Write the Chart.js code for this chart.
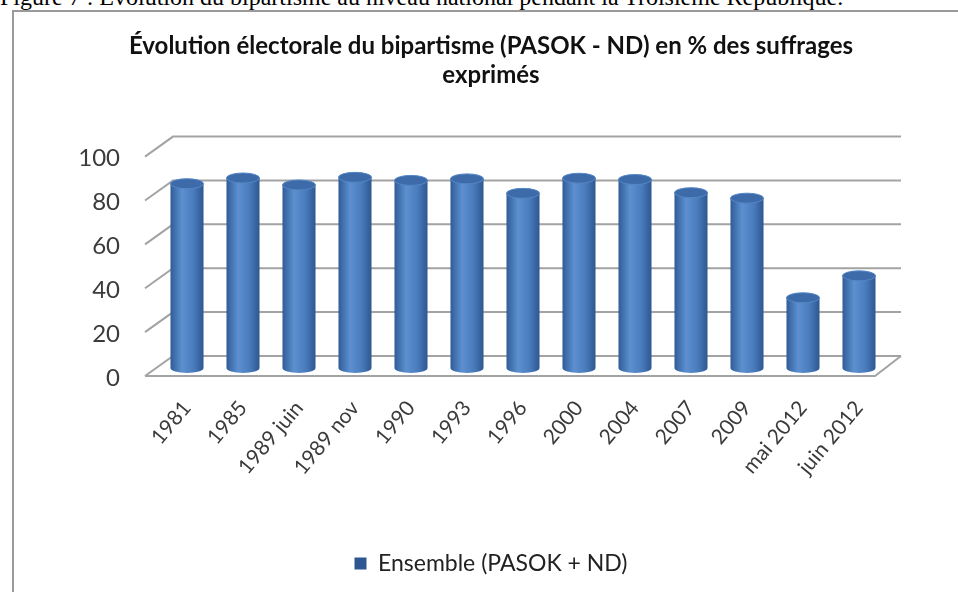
<!DOCTYPE html>
<html>
<head>
<meta charset="utf-8">
<script src="https://cdn.jsdelivr.net/npm/chart.js@4.4.1/dist/chart.umd.min.js"></script>
<style>
  html, body { margin: 0; padding: 0; background: #fff; }
  #page { position: relative; width: 958px; height: 592px; overflow: hidden; }
  #caption { position: absolute; left: 0px; top: -16px; font-family: 'Liberation Serif', serif; font-size: 24px; color: #000; white-space: nowrap; }
  #box { position: absolute; left: 12px; top: 10px; width: 946px; height: 600px; border-left: 2px solid #9a9a9a; border-top: 2px solid #9a9a9a; }
  #wrap { position: absolute; left: 0; top: 0; width: 958px; height: 592px; }
</style>
</head>
<body>
<div id="page">
  <div id="caption">Figure 7 : Évolution du bipartisme au niveau national pendant la Troisième République.</div>
  <div id="box"></div>
  <div id="wrap"><canvas id="myChart" width="958" height="592"></canvas></div>
</div>
<script>
// data
const elections = ['1981', '1985', '1989 juin', '1989 nov', '1990', '1993', '1996', '2000', '2004', '2007', '2009', 'mai 2012', 'juin 2012'];
const bipartisme = [84.0, 86.6, 83.4, 86.9, 85.5, 86.2, 79.6, 86.5, 85.9, 79.9, 77.4, 32.0, 42.0];
const yTicks = [0, 20, 40, 60, 80, 100];
const seriesName = 'Ensemble (PASOK + ND)';
const titleLines = ['Évolution électorale du bipartisme (PASOK - ND) en % des suffrages', 'exprimés'];

const barPct = 0.59;
const backDy = -12, frontDy = 8, depthDx = 14;

function cylGradient(c, x, w) {
    const g = c.createLinearGradient(x - w / 2, 0, x + w / 2, 0);
    g.addColorStop(0, '#2f5c97');
    g.addColorStop(0.35, '#5d90d0');
    g.addColorStop(0.7, '#4a7cbd');
    g.addColorStop(1, '#2d5790');
    return g;
}

// fake 3D walls / gridlines, drawn from the y scale
const wallsPlugin = {
    id: 'walls',
    beforeDatasetsDraw(chart) {
        const c = chart.ctx, a = chart.chartArea, y = chart.scales.y;
        c.save();
        c.strokeStyle = '#a3a3a3';
        c.lineWidth = 2;
        for (let v of yTicks) {
            let py = y.getPixelForValue(v);
            c.beginPath();
            c.moveTo(a.left - depthDx, py + frontDy);
            c.lineTo(a.left + depthDx, py + backDy);
            c.lineTo(a.right + depthDx, py + backDy);
            c.stroke();
        }
        let p0 = y.getPixelForValue(0);
        c.beginPath();
        c.moveTo(a.left - depthDx, p0 + frontDy);
        c.lineTo(a.right - 12, p0 + frontDy);
        c.lineTo(a.right + depthDx, p0 + backDy);
        c.stroke();
        c.restore();
    },
    afterDatasetsDraw(chart) {
        // cylinder caps and bottoms
        const c = chart.ctx;
        const meta = chart.getDatasetMeta(0);
        c.save();
        for (let bar of meta.data) {
            let w = bar.width, rx = w / 2, ry = 5;
            c.fillStyle = cylGradient(c, bar.x, w);
            c.beginPath();
            c.ellipse(bar.x, bar.base, rx, ry, 0, 0, Math.PI);
            c.fill();
            c.fillStyle = '#3d6ba9';
            c.beginPath();
            c.ellipse(bar.x, bar.y, rx, ry, 0, 0, Math.PI * 2);
            c.fill();
            c.strokeStyle = '#5486c5';
            c.lineWidth = 1;
            c.stroke();
        }
        c.restore();
    }
};

const ctx = document.getElementById('myChart');
const chart = new Chart(ctx, {
    type: 'bar',
    data: {
        labels: elections,
        datasets: [{
            label: seriesName,
            data: bipartisme,
            backgroundColor: function (context) {
                const ch = context.chart, area = ch.chartArea;
                if (!area || context.dataIndex === undefined) return '#4f81bd';
                const x = ch.scales.x.getPixelForValue(context.dataIndex);
                const w = (area.right - area.left) / elections.length * barPct;
                return cylGradient(ch.ctx, x, w);
            },
            borderWidth: 0,
            barPercentage: barPct,
            categoryPercentage: 1
        }]
    },
    options: {
        responsive: false,
        animation: false,
        devicePixelRatio: 1,
        layout: { padding: { top: 32, left: 24, right: 0, bottom: 7 } },
        scales: {
            x: {
                grid: { display: false },
                border: { display: false },
                ticks: {
                    color: '#3b3b3b', font: { family: 'Lato', size: 21 },
                    minRotation: 50, maxRotation: 50, padding: 20, autoSkip: false
                },
                afterFit: function (s) { s.height = 174; }
            },
            y: {
                min: 0, max: 100,
                grid: { display: false, drawTicks: false },
                border: { display: false },
                ticks: {
                    stepSize: 20, color: '#3b3b3b', font: { family: 'Lato', size: 24 },
                    padding: 39, labelOffset: 10
                },
                afterFit: function (s) { s.width = 135; }
            },
            // empty right axis, only reserves the space right of the plot
            yRight: {
                type: 'linear', position: 'right',
                grid: { display: false, drawTicks: false },
                border: { display: false },
                ticks: { display: false },
                afterFit: function (s) { s.width = 71; }
            }
        },
        plugins: {
            title: {
                display: true, text: titleLines, color: '#111',
                font: { family: 'Lato', size: 24, weight: 'bold', lineHeight: 1.2 },
                padding: { top: 0, bottom: 59 }
            },
            legend: {
                display: true, position: 'bottom',
                labels: { color: '#222', boxWidth: 12, boxHeight: 12, padding: 10, font: { family: 'Lato', size: 23 } }
            },
            tooltip: { enabled: false }
        }
    },
    plugins: [wallsPlugin]
});
</script>
</body>
</html>
